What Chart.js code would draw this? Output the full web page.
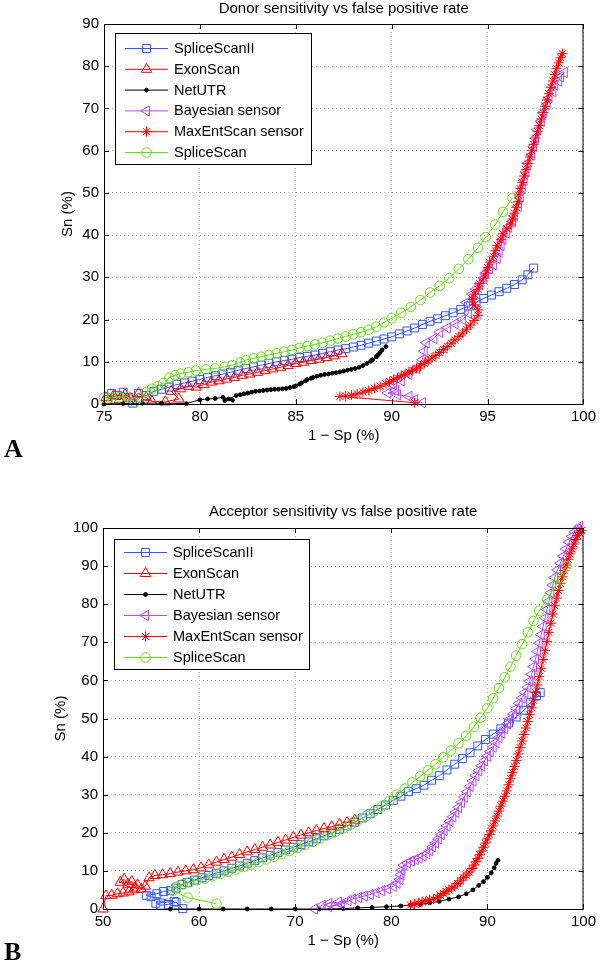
<!DOCTYPE html>
<html>
<head>
<meta charset="utf-8">
<script src="https://cdn.jsdelivr.net/npm/chart.js@4/dist/chart.umd.min.js"></script>
<style>
  html, body { margin: 0; padding: 0; background: #fff; }
  #chartA { position: absolute; left: 0; top: 0; }
  #chartB { position: absolute; left: 0; top: 480px; }
</style>
</head>
<body>
<canvas id="chartA" width="600" height="480"></canvas>
<canvas id="chartB" width="600" height="483"></canvas>
<script>
// series names, same for both panels
const seriesNames = ['SpliceScanII', 'ExonScan', 'NetUTR', 'Bayesian sensor', 'MaxEntScan sensor', 'SpliceScan'];

// ---- panel A: donor, [1 - Sp %, Sn %] ----
const donorSpliceScanII = [[75.2,1.0],[75.4,2.5],[75.7,2.0],[76.0,2.8],[76.3,1.5],[76.5,0.2],[76.8,2.5],[77.2,2.0],[77.6,3.0],[78.0,3.5],[78.4,4.0],[78.8,4.6],[79.2,5.0],[79.6,5.4],[80.0,5.8],[80.4,6.3],[80.8,6.7],[81.2,7.1],[81.6,7.5],[82.0,8.0],[82.4,8.4],[82.8,8.8],[83.2,9.2],[83.6,9.6],[84.0,10.0],[84.4,10.3],[84.8,10.6],[85.2,11.0],[85.6,11.3],[86.0,11.6],[86.4,12.0],[86.8,12.4],[87.2,12.8],[87.6,13.1],[88.0,13.5],[88.4,13.9],[88.8,14.4],[89.2,14.9],[89.6,15.4],[90.0,15.9],[90.4,16.6],[90.8,17.3],[91.2,18.0],[91.6,18.8],[92.0,19.6],[92.4,20.2],[92.8,20.9],[93.2,21.6],[93.6,22.4],[94.0,23.2],[94.4,24.1],[94.8,25.0],[95.2,25.8],[95.6,26.6],[96.0,27.4],[96.4,28.3],[96.8,29.4],[97.1,30.6],[97.4,32.2]];
const donorExonScan = [[75.1,1.5],[75.5,2.0],[75.8,1.0],[76.1,2.2],[76.4,1.3],[76.8,2.5],[77.2,1.5],[77.5,0.6],[78.2,0.5],[78.9,1.2],[78.5,3.0],[79.0,3.6],[79.4,4.2],[79.8,4.0],[80.2,4.6],[80.6,5.2],[81.0,5.5],[81.4,5.9],[81.8,6.3],[82.2,6.8],[82.6,7.1],[83.0,7.5],[83.4,7.9],[83.8,8.3],[84.2,8.7],[84.6,9.1],[85.0,9.6],[85.4,9.9],[85.8,10.3],[86.2,10.6],[86.6,11.0],[87.0,11.4],[87.4,11.9]];
const donorNetUTR = [[75.0,0.0],[76.0,0.1],[77.0,0.2],[78.0,0.2],[79.3,0.1],[80.0,1.0],[80.4,1.2],[80.8,1.3],[81.2,1.6],[81.5,1.2],[81.7,0.9],[81.3,0.8],[81.9,2.0],[82.1,2.2],[82.3,2.4],[82.5,2.6],[82.7,2.8],[82.9,3.0],[83.1,3.1],[83.3,3.2],[83.5,3.3],[83.7,3.4],[83.9,3.5],[84.1,3.5],[84.3,3.6],[84.5,3.7],[84.7,3.9],[84.9,4.1],[85.0,4.3],[85.2,4.7],[85.3,5.0],[85.5,5.5],[85.6,5.8],[85.8,6.1],[85.9,6.3],[86.1,6.6],[86.3,6.8],[86.5,7.0],[86.7,7.1],[86.9,7.3],[87.1,7.4],[87.3,7.6],[87.5,7.8],[87.7,8.0],[87.9,8.2],[88.1,8.4],[88.3,8.7],[88.5,9.1],[88.7,9.6],[88.9,10.1],[89.0,10.5],[89.2,11.2],[89.3,11.7],[89.4,12.2],[89.5,12.8],[89.7,13.6]];
const donorBayesian = [[91.6,0.3],[91.2,1.0],[90.9,1.8],[90.3,2.2],[89.8,2.6],[90.2,3.2],[90.1,4.5],[90.5,5.5],[90.9,7.0],[91.3,8.5],[91.6,10.5],[91.7,12.5],[91.8,14.5],[92.2,15.5],[92.5,17.0],[92.9,18.0],[93.3,19.0],[93.7,20.0],[94.0,21.5],[93.9,24.0],[94.2,26.0],[94.4,27.2],[94.6,28.5],[94.8,29.8],[94.9,31.0],[95.1,32.0],[95.3,33.0],[95.5,34.5],[95.6,36.0],[95.7,37.5],[95.8,39.0],[96.0,40.5],[96.1,42.0],[96.3,43.2],[96.4,44.5],[96.6,46.8],[96.7,49.0],[96.8,51.0],[96.9,53.0],[97.0,55.0],[97.1,57.0],[97.3,59.0],[97.4,61.0],[97.5,63.0],[97.6,65.0],[97.8,67.0],[97.9,69.0],[98.1,71.0],[98.2,72.5],[98.4,74.0],[98.5,75.5],[98.7,76.5],[98.8,77.5],[99.0,78.5]];
const donorMaxEnt = [[91.2,0.3],[87.3,1.8],[87.6,1.9],[87.9,2.1],[88.2,2.4],[88.5,2.8],[88.8,3.2],[89.1,3.7],[89.4,4.2],[89.7,4.8],[89.9,5.3],[90.1,5.8],[90.3,6.2],[90.5,6.7],[90.7,7.1],[90.9,7.6],[91.1,8.0],[91.3,8.5],[91.5,9.0],[91.7,9.6],[91.9,10.2],[92.1,10.9],[92.3,11.5],[92.5,12.2],[92.7,12.9],[92.9,13.6],[93.1,14.4],[93.3,15.2],[93.5,16.0],[93.7,16.8],[93.9,17.7],[94.1,18.7],[94.3,19.8],[94.5,21.0],[94.5,22.3],[94.3,23.5],[94.2,24.8],[94.3,26.0],[94.5,27.2],[94.6,28.5],[94.8,29.8],[94.9,31.0],[95.0,32.3],[95.1,33.6],[95.3,35.0],[95.4,36.3],[95.5,37.6],[95.7,39.0],[95.8,40.3],[96.0,41.5],[96.2,42.6],[96.3,43.8],[96.4,45.2],[96.5,46.6],[96.6,48.0],[96.6,49.5],[96.7,51.0],[96.8,52.5],[96.9,54.0],[97.0,55.5],[97.1,57.0],[97.2,58.5],[97.3,60.0],[97.4,61.5],[97.5,63.0],[97.6,64.5],[97.7,66.0],[97.8,67.5],[97.9,69.0],[98.0,70.5],[98.1,72.0],[98.2,73.5],[98.3,75.0],[98.4,76.5],[98.5,78.0],[98.6,79.5],[98.7,80.8],[98.8,82.0],[98.9,83.0]];
const donorSpliceScan = [[75.0,1.5],[75.4,1.5],[75.8,1.6],[76.2,1.8],[76.6,0.4],[76.9,1.5],[77.2,2.8],[77.5,3.6],[77.8,4.2],[78.1,5.0],[78.4,6.2],[78.7,6.8],[79.0,7.2],[79.4,7.5],[79.8,7.9],[80.3,8.2],[80.8,8.4],[81.3,8.8],[81.7,9.2],[82.1,9.8],[82.4,10.4],[82.8,10.8],[83.2,11.2],[83.6,11.6],[84.0,12.0],[84.4,12.4],[84.8,12.8],[85.2,13.3],[85.6,13.7],[86.0,14.1],[86.4,14.5],[86.8,15.0],[87.2,15.5],[87.6,16.0],[88.0,16.5],[88.4,17.0],[88.8,17.6],[89.2,18.3],[89.6,19.3],[90.0,20.3],[90.5,21.6],[91.0,23.0],[91.5,24.6],[92.0,26.4],[92.5,28.0],[93.0,29.8],[93.5,32.0],[94.0,34.3],[94.5,37.0],[94.9,39.5],[95.4,42.5],[95.8,45.5],[96.3,48.8]];

// ---- panel B: acceptor ----
const acceptorSpliceScanII = [[58.3,0.1],[57.6,1.8],[56.8,1.2],[56.0,1.0],[55.5,1.5],[57.4,2.0],[55.0,3.2],[54.5,3.6],[55.6,4.0],[56.3,4.6],[57.0,4.8],[57.6,5.5],[58.2,6.4],[58.8,7.0],[59.5,7.6],[60.3,8.2],[61.0,8.8],[61.8,9.4],[62.6,10.0],[63.4,10.7],[64.2,11.3],[65.0,12.0],[65.8,12.7],[66.6,13.4],[67.4,14.1],[68.2,14.8],[69.0,15.5],[69.8,16.2],[70.6,16.9],[71.4,17.6],[72.2,18.4],[73.0,19.2],[73.8,20.0],[74.6,20.9],[75.4,21.8],[76.2,22.8],[77.0,23.9],[77.8,25.0],[78.6,26.1],[79.4,27.3],[80.2,28.5],[81.0,29.6],[81.8,30.8],[82.6,31.6],[83.4,32.5],[84.2,33.8],[85.0,35.0],[85.8,36.5],[86.6,38.0],[87.4,39.5],[88.2,41.0],[89.0,42.8],[89.8,44.5],[90.6,45.9],[91.4,47.3],[92.2,48.8],[93.0,50.4],[93.8,52.2],[94.5,54.2],[95.1,56.0],[95.5,56.8]];
const acceptorExonScan = [[50.0,0.0],[50.3,3.5],[50.9,3.6],[51.5,4.0],[52.1,4.2],[52.7,4.5],[53.2,5.0],[51.8,7.0],[52.2,7.8],[52.6,6.5],[53.0,7.2],[53.3,5.5],[53.6,6.3],[54.0,5.2],[54.4,6.0],[54.8,8.2],[55.4,8.8],[56.2,9.0],[57.0,9.3],[57.8,9.7],[58.6,10.0],[59.4,10.3],[60.2,10.8],[61.0,11.6],[61.8,12.3],[62.6,13.0],[63.4,13.6],[64.2,14.3],[65.0,15.0],[65.8,15.6],[66.6,16.2],[67.4,16.8],[68.2,17.5],[69.0,18.1],[69.8,18.8],[70.6,19.4],[71.4,20.0],[72.2,20.6],[73.0,21.1],[73.8,21.6],[74.6,22.2],[75.4,22.7],[76.2,23.3]];
const acceptorNetUTR = [[57.0,0.0],[60.0,0.0],[62.5,0.0],[65.0,0.0],[67.5,0.0],[70.0,0.0],[72.5,0.0],[75.0,0.1],[76.5,0.3],[78.0,0.4],[79.5,0.6],[81.0,0.8],[82.0,1.0],[83.0,1.2],[84.0,1.6],[85.0,2.0],[86.0,2.6],[87.0,3.2],[87.8,4.0],[88.5,5.0],[89.1,6.2],[89.6,7.2],[90.0,8.3],[90.4,9.5],[90.7,10.8],[90.9,12.0],[91.1,12.8]];
const acceptorBayesian = [[72.0,0.0],[72.8,1.0],[73.5,1.5],[74.5,1.8],[75.5,2.2],[73.5,0.6],[74.8,1.2],[76.0,2.6],[76.6,3.0],[77.2,3.4],[77.8,3.8],[78.4,4.3],[79.0,4.8],[79.6,5.3],[80.2,6.0],[80.6,6.8],[80.9,7.8],[81.0,9.0],[81.1,10.2],[81.3,11.5],[81.7,12.1],[82.1,12.6],[82.5,13.0],[82.9,13.4],[83.3,13.9],[83.7,14.5],[84.0,15.3],[84.3,16.3],[84.6,17.3],[84.9,18.4],[85.2,19.5],[85.5,20.6],[85.8,21.8],[86.1,23.0],[86.4,24.2],[86.7,25.4],[87.0,26.7],[87.3,28.0],[87.6,29.4],[87.9,30.8],[88.2,32.2],[88.5,33.6],[88.8,35.0],[89.1,36.3],[89.4,37.6],[89.7,38.9],[90.0,40.1],[90.3,41.3],[90.6,42.5],[90.9,43.7],[91.2,45.0],[91.5,46.2],[91.8,47.4],[92.1,48.6],[92.4,49.9],[92.7,51.2],[93.0,52.6],[93.3,54.0],[93.6,55.4],[93.9,56.8],[94.2,58.2],[94.4,59.8],[94.6,61.6],[94.8,63.6],[95.0,65.6],[95.2,67.6],[95.4,69.8],[95.6,72.0],[95.8,74.2],[96.0,76.4],[96.2,78.6],[96.4,80.8],[96.6,83.0],[96.8,85.0],[97.0,87.0],[97.3,89.0],[97.6,90.8],[97.9,92.6],[98.2,94.5],[98.5,96.3],[98.8,97.8],[99.1,99.0],[99.4,99.8],[99.6,100.4]];
const acceptorMaxEnt = [[82.0,1.0],[82.4,1.3],[82.8,1.6],[83.2,1.9],[83.6,2.2],[84.0,2.4],[84.4,2.6],[84.8,3.0],[85.1,3.6],[85.4,4.1],[85.7,4.6],[86.0,5.0],[86.3,5.5],[86.6,6.0],[86.9,6.7],[87.2,7.4],[87.5,8.2],[87.8,8.9],[88.1,9.7],[88.4,10.6],[88.6,11.5],[88.8,12.4],[89.0,13.3],[89.2,14.2],[89.4,15.2],[89.6,16.2],[89.8,17.3],[90.0,18.4],[90.2,19.5],[90.4,20.5],[90.6,21.8],[90.8,23.1],[91.0,24.4],[91.2,25.7],[91.4,27.0],[91.6,28.3],[91.8,29.6],[92.0,31.0],[92.2,32.6],[92.4,34.2],[92.6,35.8],[92.8,37.4],[93.0,39.0],[93.2,40.7],[93.4,42.4],[93.6,44.1],[93.8,45.8],[94.0,47.5],[94.2,49.2],[94.4,51.0],[94.6,52.8],[94.8,54.8],[95.0,56.8],[95.2,58.8],[95.4,61.0],[95.6,63.2],[95.8,65.5],[96.0,67.8],[96.2,70.2],[96.4,72.6],[96.6,75.0],[96.8,77.4],[97.0,79.6],[97.2,81.6],[97.4,83.6],[97.6,85.5],[97.8,87.2],[98.0,88.8],[98.2,90.3],[98.4,91.8],[98.6,93.2],[98.8,94.5],[99.0,95.8],[99.2,97.0],[99.4,98.0],[99.6,98.8],[99.8,99.4]];
const acceptorSpliceScan = [[61.8,1.4],[58.8,3.0],[57.3,4.8],[57.6,5.8],[58.3,6.5],[59.0,7.0],[59.8,7.6],[60.6,8.0],[61.4,8.6],[62.2,9.2],[63.0,9.8],[63.8,10.4],[64.6,11.0],[65.4,11.6],[66.2,12.3],[67.0,13.0],[67.8,13.7],[68.6,14.4],[69.4,15.2],[70.2,16.0],[71.0,16.8],[71.8,17.6],[72.6,18.5],[73.4,19.4],[74.2,20.3],[75.0,21.2],[75.8,22.2],[76.6,23.3],[77.4,24.4],[78.2,25.6],[79.0,26.9],[79.8,28.4],[80.6,30.0],[81.4,31.6],[82.2,33.2],[83.0,34.8],[83.8,36.4],[84.6,38.0],[85.4,39.8],[86.2,41.6],[87.0,43.5],[87.8,45.5],[88.6,47.8],[89.3,50.2],[90.0,52.7],[90.6,55.3],[91.2,58.0],[91.8,60.8],[92.4,63.6],[93.0,66.5],[93.6,69.5],[94.2,72.6],[94.8,75.6],[95.4,78.3],[96.2,81.2],[97.1,85.0],[97.5,87.0],[98.2,90.0]];

const FONT = "'Liberation Sans', Arial, Helvetica, sans-serif";

// marker / line style per series (MATLAB look)
const seriesStyles = [
    { color: '#3355ff', pointStyle: 'rect', radius: 5.6, rotation: 0, fill: 'rgba(0,0,0,0)' },
    { color: '#ff0000', pointStyle: 'triangle', radius: 6, rotation: 0, fill: 'rgba(0,0,0,0)' },
    { color: '#000000', pointStyle: 'circle', radius: 1.9, rotation: 0, fill: '#000000' },
    { color: '#b44dff', pointStyle: 'triangle', radius: 6, rotation: -90, fill: 'rgba(0,0,0,0)' },
    { color: '#ff0000', pointStyle: 'star', radius: 5, rotation: 0, fill: 'rgba(0,0,0,0)' },
    { color: '#66dd11', pointStyle: 'circle', radius: 4.8, rotation: 0, fill: 'rgba(0,0,0,0)' }
];

function buildDatasets(seriesList) {
    return seriesList.map((pts, i) => {
        const st = seriesStyles[i];
        return {
            label: seriesNames[i],
            data: pts.map(p => ({ x: p[0], y: p[1] })),
            showLine: true,
            borderColor: st.color,
            borderWidth: 1,
            backgroundColor: st.fill,
            pointStyle: st.pointStyle,
            pointRadius: st.radius,
            pointRotation: st.rotation,
            pointBorderColor: st.color,
            pointBackgroundColor: st.fill,
            pointBorderWidth: 1,
            tension: 0,
            clip: false,
            order: seriesList.length - i
        };
    });
}

function drawMarker(ctx, st, x, y) {
    ctx.strokeStyle = st.color;
    ctx.fillStyle = st.fill;
    ctx.lineWidth = 1;
    if (Chart.helpers && Chart.helpers.drawPoint) {
        Chart.helpers.drawPoint(ctx, { pointStyle: st.pointStyle, radius: st.radius, rotation: st.rotation, borderWidth: 1 }, x, y);
    } else {
        ctx.beginPath();
        ctx.arc(x, y, st.radius, 0, Math.PI * 2);
        ctx.fill();
        ctx.stroke();
    }
}

// frame, inward ticks, titles, legend
const matlabDecor = {
    id: 'matlabDecor',
    afterDraw(chart, args, o) {
        const { ctx, chartArea: a, scales: { x, y } } = chart;
        ctx.save();
        ctx.strokeStyle = '#000';
        ctx.lineWidth = 1;
        ctx.strokeRect(a.left + 0.5, a.top + 0.5, a.right - a.left - 1, a.bottom - a.top);
        ctx.beginPath();
        x.ticks.forEach(t => {
            const px = Math.round(x.getPixelForValue(t.value)) + 0.5;
            ctx.moveTo(px, a.bottom); ctx.lineTo(px, a.bottom - 5);
            ctx.moveTo(px, a.top); ctx.lineTo(px, a.top + 5);
        });
        y.ticks.forEach(t => {
            const py = Math.round(y.getPixelForValue(t.value)) + 0.5;
            ctx.moveTo(a.left, py); ctx.lineTo(a.left + 5, py);
            ctx.moveTo(a.right, py); ctx.lineTo(a.right - 5, py);
        });
        ctx.stroke();

        ctx.fillStyle = '#000';
        ctx.font = '15px ' + FONT;
        ctx.textAlign = 'center';
        ctx.textBaseline = 'middle';
        const cx = (a.left + a.right) / 2;
        ctx.fillText(o.title, cx, o.titleY);
        ctx.fillText('1 \u2212 Sp (%)', cx, a.bottom + 32);
        ctx.save();
        ctx.translate(o.yLabelX, (a.top + a.bottom) / 2);
        ctx.rotate(-Math.PI / 2);
        ctx.fillText('Sn (%)', 0, 0);
        ctx.restore();

        ctx.font = "bold 26px 'Liberation Serif', 'Times New Roman', serif";
        ctx.textAlign = 'left';
        ctx.textBaseline = 'alphabetic';
        ctx.fillText(o.panel, 4, o.panelY);

        // legend box
        const L = o.legend;
        ctx.fillStyle = '#fff';
        ctx.fillRect(L.left, L.top, L.right - L.left, L.bottom - L.top);
        ctx.strokeStyle = '#000';
        ctx.strokeRect(L.left + 0.5, L.top + 0.5, L.right - L.left, L.bottom - L.top);
        ctx.font = '14.5px ' + FONT;
        ctx.textBaseline = 'middle';
        seriesNames.forEach((name, i) => {
            const st = seriesStyles[i];
            const ry = L.firstRow + i * L.rowGap;
            ctx.strokeStyle = st.color;
            ctx.lineWidth = 1;
            ctx.beginPath();
            ctx.moveTo(L.left + 10, ry + 0.5);
            ctx.lineTo(L.left + 53, ry + 0.5);
            ctx.stroke();
            drawMarker(ctx, st, L.left + 31.5, ry + 0.5);
            ctx.fillStyle = '#000';
            ctx.fillText(name, L.left + 59, ry + 1);
        });
        ctx.restore();
    }
};

function makeChart(id, seriesList, cfg) {
    const area = cfg.area;
    const tickFont = { family: FONT, size: 15 };
    return new Chart(document.getElementById(id), {
        type: 'scatter',
        data: { datasets: buildDatasets(seriesList) },
        options: {
            responsive: false,
            animation: false,
            events: [],
            layout: { padding: { top: area.top, right: cfg.width - area.right, left: 0, bottom: 0 } },
            scales: {
                x: {
                    type: 'linear', min: cfg.xMin, max: cfg.xMax,
                    ticks: { stepSize: cfg.xStep, color: '#000', font: tickFont, padding: 4, maxRotation: 0, autoSkip: false },
                    grid: { color: '#a8a8a8', lineWidth: 1, drawTicks: false },
                    border: { display: false, dash: [1, 3] },
                    afterFit: s => { s.height = cfg.height - area.bottom; }
                },
                y: {
                    type: 'linear', min: cfg.yMin, max: cfg.yMax,
                    ticks: { stepSize: cfg.yStep, color: '#000', font: tickFont, padding: 5, autoSkip: false },
                    grid: { color: '#a8a8a8', lineWidth: 1, drawTicks: false },
                    border: { display: false, dash: [1, 3] },
                    afterFit: s => { s.width = area.left; }
                }
            },
            plugins: {
                legend: { display: false },
                tooltip: { enabled: false },
                matlabDecor: cfg.decor
            }
        },
        plugins: [matlabDecor]
    });
}

makeChart('chartA',
    [donorSpliceScanII, donorExonScan, donorNetUTR, donorBayesian, donorMaxEnt, donorSpliceScan],
    {
        width: 600, height: 480,
        area: { left: 104, right: 587, top: 24, bottom: 404 },
        xMin: 75, xMax: 100, xStep: 5, yMin: 0, yMax: 90, yStep: 10,
        decor: {
            title: 'Donor sensitivity vs false positive rate', titleY: 9,
            yLabelX: 68, panel: 'A', panelY: 457,
            legend: { left: 115, top: 33, right: 311, bottom: 164, firstRow: 48, rowGap: 20.8 }
        }
    });

makeChart('chartB',
    [acceptorSpliceScanII, acceptorExonScan, acceptorNetUTR, acceptorBayesian, acceptorMaxEnt, acceptorSpliceScan],
    {
        width: 600, height: 483,
        area: { left: 103, right: 586, top: 48, bottom: 429 },
        xMin: 50, xMax: 100, xStep: 10, yMin: 0, yMax: 100, yStep: 10,
        decor: {
            title: 'Acceptor sensitivity vs false positive rate', titleY: 32,
            yLabelX: 61, panel: 'B', panelY: 480,
            legend: { left: 114, top: 59, right: 309, bottom: 189, firstRow: 72, rowGap: 21 }
        }
    });
</script>
</body>
</html>
